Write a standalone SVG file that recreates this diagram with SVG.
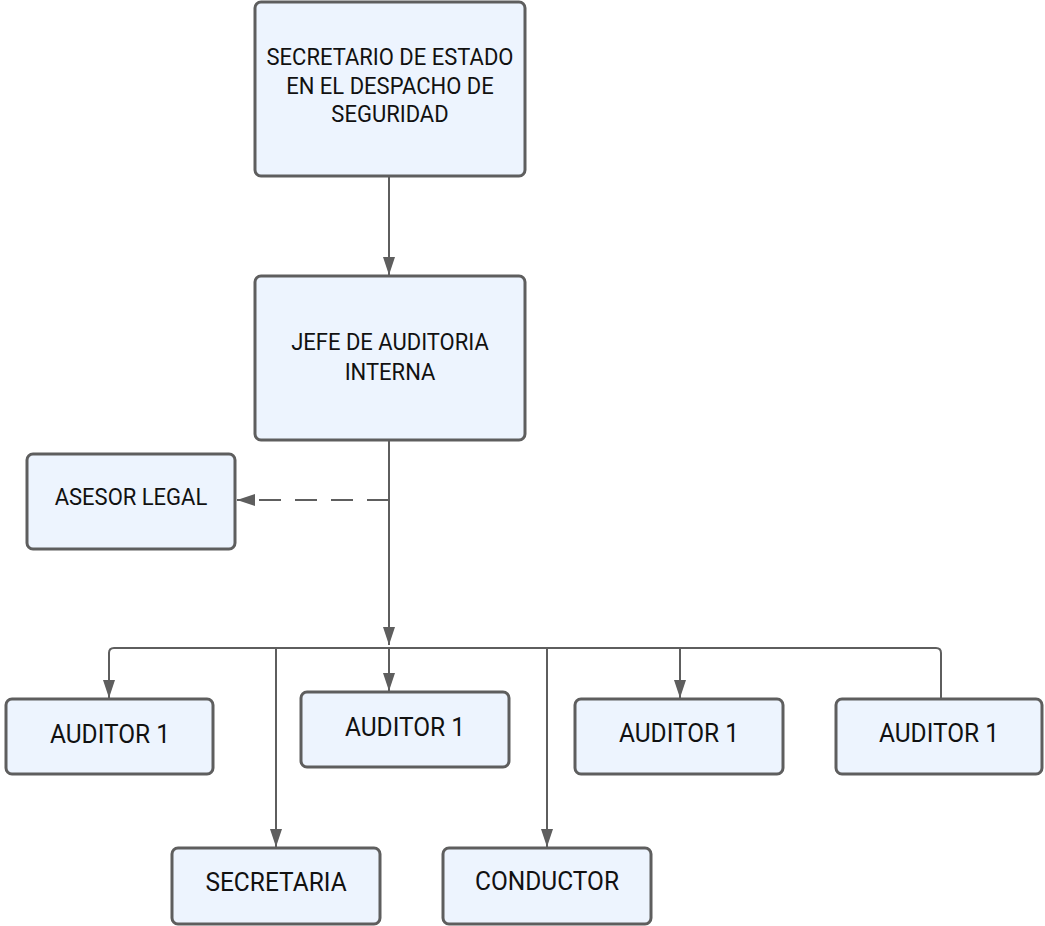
<svg xmlns="http://www.w3.org/2000/svg" width="1045" height="926" viewBox="0 0 1045 926">
<defs>
<marker id="arr" viewBox="0 0 18 12" refX="18" refY="6" markerWidth="18" markerHeight="12" markerUnits="userSpaceOnUse" orient="auto">
<path d="M0,0 L18,6 L0,12 Z" fill="#5e5e5e"/>
</marker>
<style>
.box{fill:#edf4fe;stroke:#5e5e5e;stroke-width:3}
.ln{fill:none;stroke:#5e5e5e;stroke-width:2}
.dash{stroke-dasharray:22 14}
.t{font-family:Roboto,"Liberation Sans",Arial,sans-serif;fill:#111;text-anchor:middle}
.s22{font-size:22px}
.s24{font-size:24.5px}
</style>
</defs>
<rect width="1045" height="926" fill="#ffffff"/>
<g id="connectors">
<path class="ln" d="M389,176 V275" marker-end="url(#arr)"/>
<path class="ln" d="M389,440 V645" marker-end="url(#arr)"/>
<path class="ln dash" d="M389,500 H237" marker-end="url(#arr)"/>
<path class="ln" d="M109,698 V653 Q109,648 114,648 H936 Q941,648 941,653 V699"/>
<path class="ln" d="M109,660 V698" marker-end="url(#arr)"/>
<path class="ln" d="M389,648 V691" marker-end="url(#arr)"/>
<path class="ln" d="M276,648 V847" marker-end="url(#arr)"/>
<path class="ln" d="M547,648 V847" marker-end="url(#arr)"/>
<path class="ln" d="M680,648 V698" marker-end="url(#arr)"/>
</g>
<g id="n-secretario">
<rect class="box" x="255" y="2" width="270" height="174" rx="6"/>
<text class="t s22" transform="translate(390,65) scale(1,1.12)">SECRETARIO DE ESTADO</text>
<text class="t s22" transform="translate(390,94) scale(1,1.12)">EN EL DESPACHO DE</text>
<text class="t s22" transform="translate(390,122) scale(1,1.12)">SEGURIDAD</text>
</g>
<g id="n-jefe">
<rect class="box" x="255" y="276" width="270" height="164" rx="6"/>
<text class="t s22" transform="translate(390,350) scale(1,1.12)">JEFE DE AUDITORIA</text>
<text class="t s22" transform="translate(390,380) scale(1,1.12)">INTERNA</text>
</g>
<g id="n-asesor">
<rect class="box" x="27" y="454" width="208" height="95" rx="6"/>
<text class="t s22" transform="translate(131,505) scale(1,1.1)">ASESOR LEGAL</text>
</g>
<g id="n-auditor-a">
<rect class="box" x="6" y="699" width="207" height="75" rx="6"/>
<text class="t s24" transform="translate(110,743) scale(1,1.08)">AUDITOR 1</text>
</g>
<g id="n-auditor-b">
<rect class="box" x="301" y="692" width="208" height="75" rx="6"/>
<text class="t s24" transform="translate(405,736) scale(1,1.08)">AUDITOR 1</text>
</g>
<g id="n-auditor-c">
<rect class="box" x="575" y="699" width="208" height="75" rx="6"/>
<text class="t s24" transform="translate(679,742) scale(1,1.08)">AUDITOR 1</text>
</g>
<g id="n-auditor-d">
<rect class="box" x="836" y="699" width="206" height="75" rx="6"/>
<text class="t s24" transform="translate(939,742) scale(1,1.08)">AUDITOR 1</text>
</g>
<g id="n-secretaria">
<rect class="box" x="172" y="848" width="208" height="76" rx="6"/>
<text class="t s24" transform="translate(276,891) scale(1,1.08)">SECRETARIA</text>
</g>
<g id="n-conductor">
<rect class="box" x="443" y="848" width="208" height="76" rx="6"/>
<text class="t s24" transform="translate(547,890) scale(1,1.08)">CONDUCTOR</text>
</g>
</svg>
